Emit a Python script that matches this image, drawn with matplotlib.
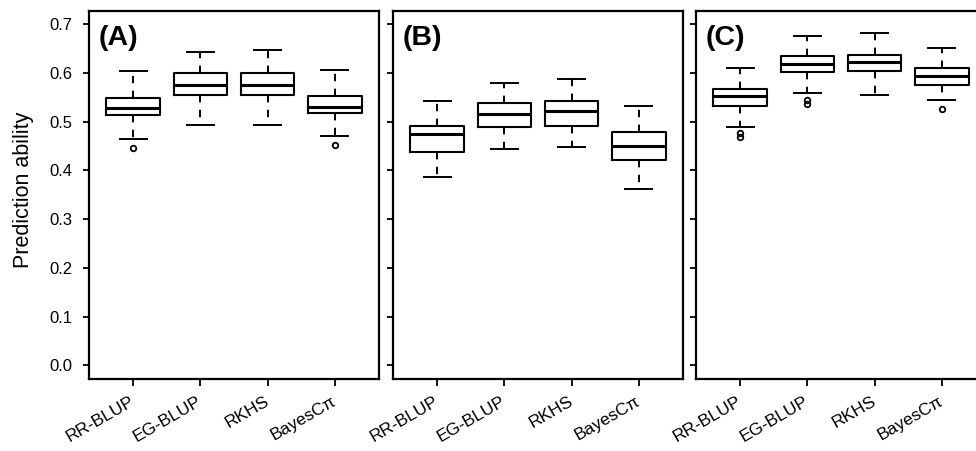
import matplotlib
matplotlib.use("Agg")
import matplotlib.pyplot as plt
import matplotlib.transforms as mtransforms

plt.rcParams['font.family'] = ['Liberation Sans', 'DejaVu Sans']

methods = ["RR-BLUP", "EG-BLUP", "RKHS", "BayesCπ"]
panels = ["(A)", "(B)", "(C)"]

# per panel, per method: lower whisker, Q1, median, Q3, upper whisker
lo_whisk = [[0.465, 0.493, 0.494, 0.471],
            [0.386, 0.444, 0.448, 0.362],
            [0.490, 0.559, 0.554, 0.545]]
q1 = [[0.514, 0.554, 0.554, 0.517],
      [0.437, 0.488, 0.491, 0.422],
      [0.532, 0.601, 0.604, 0.576]]
med = [[0.529, 0.576, 0.576, 0.531],
       [0.474, 0.515, 0.521, 0.451],
       [0.552, 0.618, 0.622, 0.593]]
q3 = [[0.549, 0.600, 0.599, 0.553],
      [0.492, 0.538, 0.543, 0.479],
      [0.567, 0.634, 0.637, 0.611]]
hi_whisk = [[0.603, 0.642, 0.646, 0.605],
            [0.543, 0.580, 0.587, 0.533],
            [0.610, 0.676, 0.681, 0.652]]
outliers = [[[0.445], [], [], [0.452]],
            [[], [], [], []],
            [[0.476, 0.468], [0.545, 0.536], [], [0.525]]]

fig = plt.figure(figsize=(9.76, 4.51), dpi=100)
lefts = [89 / 976, 393 / 976, 696 / 976]
bottom = 1 - 379 / 451
height = (379 - 11) / 451
width = 290 / 976

for p in range(3):
    ax = fig.add_axes([lefts[p], bottom, width, height])
    stats = []
    for m in range(4):
        stats.append(dict(whislo=lo_whisk[p][m], q1=q1[p][m], med=med[p][m],
                          q3=q3[p][m], whishi=hi_whisk[p][m],
                          fliers=outliers[p][m]))
    ax.bxp(stats, positions=[1, 2, 3, 4], widths=0.8,
           boxprops=dict(color="black", linewidth=1.5),
           medianprops=dict(color="black", linewidth=2.2),
           whiskerprops=dict(color="black", linewidth=1.4, linestyle=(0, (3.8, 3.8))),
           capprops=dict(color="black", linewidth=1.4),
           capwidths=0.4,
           flierprops=dict(marker="o", markersize=4, markerfacecolor="none",
                           markeredgecolor="black", markeredgewidth=1.3))
    ax.set_xlim(0.34, 4.66)
    ax.set_ylim(-0.028, 0.727)
    ax.set_yticks([0.0, 0.1, 0.2, 0.3, 0.4, 0.5, 0.6, 0.7])
    if p == 0:
        ax.set_yticklabels(["0.0", "0.1", "0.2", "0.3", "0.4", "0.5", "0.6", "0.7"], fontsize=12)
        ax.set_ylabel("Prediction ability", fontsize=15.5)
        ax.yaxis.set_label_coords(-0.19, 0.514)
    else:
        ax.set_yticklabels([])
    ax.set_xticks([1, 2, 3, 4])
    ax.set_xticklabels(methods, rotation=30, ha="right", va="center",
                       rotation_mode="anchor", fontsize=12.5)
    # RKHS label sits a bit right of its tick in the original
    lab = ax.get_xticklabels()[2]
    lab.set_transform(lab.get_transform() +
                      mtransforms.ScaledTranslation(13 / 100, 0, fig.dpi_scale_trans))
    ax.tick_params(axis="y", length=4.5, width=1.3, pad=7.5)
    ax.tick_params(axis="x", length=5, width=1.3, pad=10)
    for s in ax.spines.values():
        s.set_linewidth(1.6)
    ax.text(10 / 290, 1 - 14 / 368, panels[p], transform=ax.transAxes,
            fontsize=20.5, fontweight="bold", va="top", ha="left")

fig.savefig("out.png", dpi=100)
